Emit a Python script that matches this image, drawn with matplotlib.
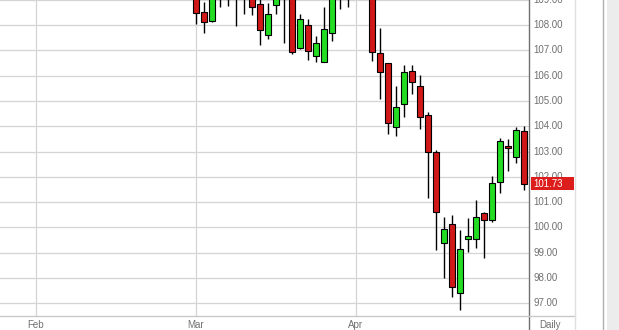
import matplotlib.pyplot as plt
from matplotlib.patches import Rectangle
from matplotlib.transforms import blended_transform_factory

plt.rcParams['font.family'] = ['Liberation Sans', 'DejaVu Sans']

# daily candles, x = trading-day index counted from Feb 1
# (candles whose bodies sit above the visible range are only seen by their wicks)
idx = [20, 21, 22, 23, 24, 25, 26, 27, 28, 29, 30, 31, 32, 33, 34, 35, 36, 37, 38, 39,
       42, 43, 44, 45, 46, 47, 48, 49, 50, 51, 52, 53, 54, 55, 56, 57, 58, 59, 60, 61]
opens = [109.60, 108.53, 108.15, 109.20, 109.30, 109.40, 109.30, 109.30, 108.82, 107.59,
         108.79, 109.40, 109.30, 107.08, 108.00, 106.79, 106.53, 107.67, 109.30, 109.30,
         109.40, 106.88, 106.49, 103.96, 104.88, 106.17, 105.59, 104.44, 102.99, 99.40,
         100.12, 97.42, 99.53, 99.53, 100.56, 100.29, 101.78, 103.22, 102.77, 103.80]
highs = [109.80, 108.92, 109.50, 109.60, 109.60, 109.60, 109.60, 109.50, 109.10, 108.86,
         109.40, 109.60, 109.50, 108.43, 108.23, 107.57, 108.72, 109.50, 109.50, 109.50,
         109.60, 107.87, 106.50, 105.59, 106.42, 106.42, 106.02, 104.57, 103.06, 100.42,
         100.49, 99.90, 100.36, 101.08, 100.62, 102.03, 103.52, 103.49, 103.98, 104.01]
lows = [108.04, 107.68, 108.12, 108.72, 108.75, 107.96, 108.43, 108.40, 107.21, 107.43,
        108.43, 107.30, 106.84, 107.06, 106.62, 106.53, 106.52, 107.38, 108.62, 108.70,
        106.59, 105.08, 103.69, 103.61, 104.38, 105.26, 103.88, 101.18, 99.11, 97.99,
        97.26, 96.74, 99.04, 99.20, 98.78, 100.23, 101.35, 102.24, 102.56, 101.48]
closes = [108.49, 108.11, 109.30, 109.40, 109.20, 109.20, 109.40, 108.72, 107.80, 108.42,
          109.20, 109.20, 106.94, 108.23, 106.98, 107.30, 107.83, 109.30, 109.40, 109.20,
          106.92, 106.13, 104.11, 104.77, 106.15, 105.74, 104.35, 102.99, 100.60, 99.92,
          97.66, 99.15, 99.66, 100.40, 100.29, 101.74, 103.43, 103.13, 103.85, 101.73]

month_pos = [0, 20, 40]
month_labels = ['Feb', 'Mar', 'Apr']
price_ticks = [97, 98, 99, 100, 101, 102, 103, 104, 105, 106, 107, 108, 109]
last_price = 101.73

W, H = 619, 330
fig = plt.figure(figsize=(W / 100, H / 100), dpi=100)
ax = fig.add_axes([0, 1 - 316 / H, 529 / W, 316 / H])
ax.set_xlim(-4.5, 61.625)
ax.set_ylim(96.50, 108.99)

grid_c = '#d4d4d4'
for p in price_ticks:
    ax.axhline(p, color=grid_c, lw=0.9, zorder=0)
for m in month_pos:
    ax.axvline(m, color=grid_c, lw=0.9, zorder=0)

for x, o, h, l, c in zip(idx, opens, highs, lows, closes):
    ax.vlines(x, l, h, color='black', lw=1.0, zorder=2)
    col = '#22dd22' if c > o else '#d01818'
    body = max(abs(c - o), 0.08)
    ax.bar(x, body, bottom=min(o, c), width=0.75, color=col,
           edgecolor='black', linewidth=0.8, zorder=3)

ax.set_xticks([])
ax.set_yticks([])
for s in ax.spines.values():
    s.set_visible(False)

# right price panel
tr = blended_transform_factory(fig.transFigure, ax.transData)
for p in price_ticks:
    if abs(p - last_price) < 0.35:
        pass
    ax.text(533 / W, p, f'{p:.2f}', transform=tr, ha='left', va='center',
            fontsize=7, color='#707070', clip_on=False)
ax.add_patch(Rectangle((531 / W, last_price - 0.25), 43 / W, 0.5, transform=tr,
                       facecolor='#dd1c1c', edgecolor='none', clip_on=False, zorder=5))
ax.text(533 / W, last_price, f'{last_price:.2f}', transform=tr, ha='left', va='center',
        fontsize=7, color='white', clip_on=False, zorder=6)

# frame lines
fig.add_artist(plt.Line2D([529 / W, 529 / W], [0, 1], color='#707070', lw=1.0))
fig.add_artist(plt.Line2D([0, 575 / W], [1 - 316 / H, 1 - 316 / H], color='#c8c8c8', lw=1.0))
fig.add_artist(plt.Line2D([575 / W, 575 / W], [0, 1], color='#e0e0e0', lw=1.0))
fig.add_artist(plt.Line2D([603 / W, 603 / W], [0, 1], color='#b0b0b0', lw=1.0))
fig.add_artist(Rectangle((607 / W, 0), 12 / W, 1, transform=fig.transFigure,
                         facecolor='#ececec', edgecolor='none'))

# month labels
xtr = blended_transform_factory(ax.transData, fig.transFigure)
for m, lab in zip(month_pos, month_labels):
    ax.text(m, 1 - 325 / H, lab, transform=xtr, ha='center', va='center',
            fontsize=7, color='#707070', clip_on=False)
fig.text(550 / W, 1 - 325 / H, 'Daily', ha='center', va='center', fontsize=7, color='#707070')

fig.savefig('out.png', dpi=100)
